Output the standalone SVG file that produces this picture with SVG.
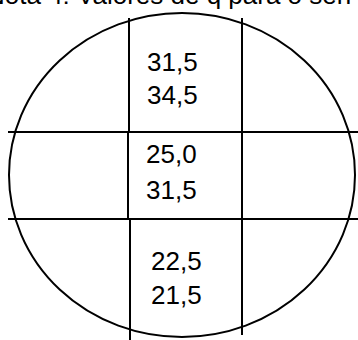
<svg xmlns="http://www.w3.org/2000/svg" width="358" height="340" viewBox="0 0 358 340">
<style>
.ln{stroke:#000;stroke-width:2;fill:none}
.t{font-family:"Liberation Sans",Arial,sans-serif;font-size:26px;fill:#000}
</style>
<rect width="358" height="340" fill="#fff"/>
<text class="t" x="-14" y="4">Nota 4: Valores de q para o sen</text>
<g id="connectors">
<ellipse class="ln" cx="182" cy="175" rx="173" ry="162"/>
<line class="ln" x1="8" y1="132" x2="358" y2="132"/>
<line class="ln" x1="8" y1="219" x2="358" y2="219"/>
<line class="ln" x1="129" y1="18" x2="129" y2="132"/>
<line class="ln" x1="128" y1="132" x2="128" y2="219"/>
<line class="ln" x1="130" y1="219" x2="130" y2="340"/>
<line class="ln" x1="242" y1="18" x2="242" y2="335"/>
</g>
<g id="top"><text class="t" x="147" y="71">31,5</text><text class="t" x="147" y="104">34,5</text></g>
<g id="middle"><text class="t" x="146" y="163">25,0</text><text class="t" x="146" y="199">31,5</text></g>
<g id="bottom"><text class="t" x="151" y="270">22,5</text><text class="t" x="151" y="304">21,5</text></g>
</svg>
